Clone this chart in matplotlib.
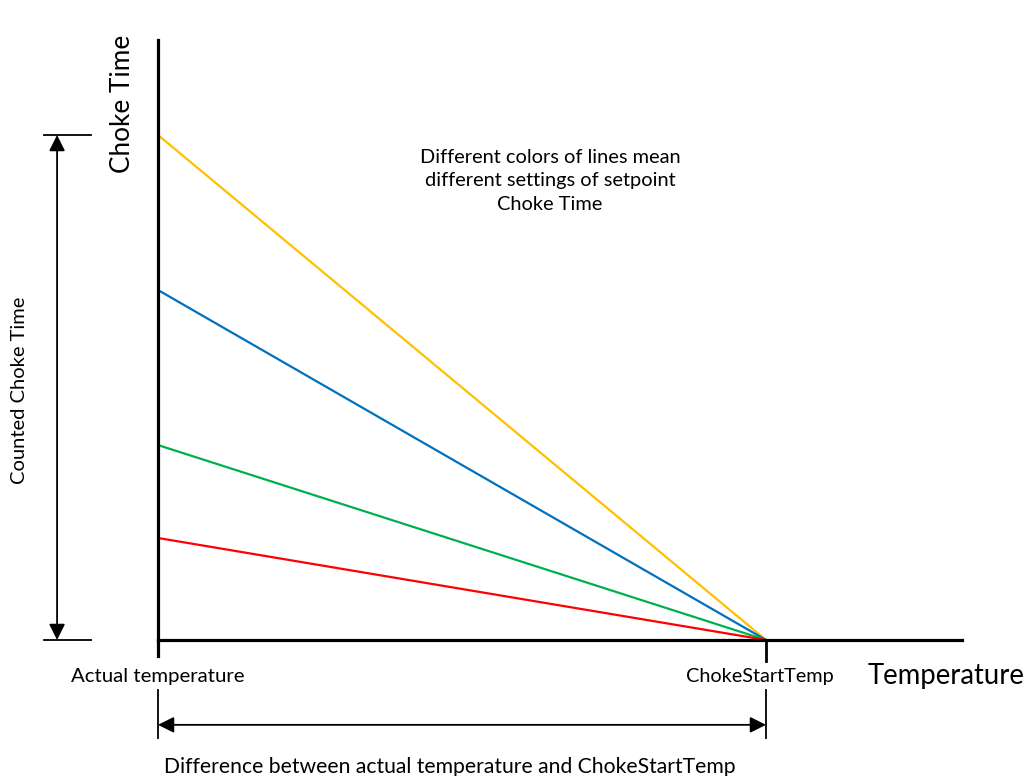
import matplotlib.pyplot as plt

# setpoint choke time per line (fraction of max counted choke time), at actual temperature
setpoint_names = ['yellow', 'blue', 'green', 'red']
setpoint_values = [1.0, 0.693, 0.386, 0.202]
line_colors = ['#FFC000', '#0070C0', '#00B050', '#FF0000']
temp_points = [0.0, 1.0]  # actual temperature -> ChokeStartTemp

plt.rcParams['font.family'] = ['Lato', 'DejaVu Sans']

fig = plt.figure(figsize=(10.3, 7.76), dpi=100)
ax = fig.add_axes([158 / 1030, 136 / 776, 804 / 1030, 600 / 776])

for v, c in zip(setpoint_values, line_colors):
    ax.plot(temp_points, [v, 0.0], color=c, lw=1.6, solid_capstyle='butt')

ax.set_xlim(0, 804 / 608)
ax.set_ylim(0, 600 / 505)
for s in ['top', 'right']:
    ax.spines[s].set_visible(False)
for s in ['left', 'bottom']:
    ax.spines[s].set_linewidth(2.3)
ax.set_xticks([])
ax.set_yticks([])

k = dict(color='black', clip_on=False)
# left spine extension and ChokeStartTemp tick
ax.plot([0, 0], [0, -0.032], lw=2.3, **k)
ax.plot([1, 1], [0, -0.042], lw=2.0, **k)

# vertical dimension
for y in [1.0, 0.0]:
    ax.plot([-0.1875, -0.1102], [y, y], lw=1.3, **k)
ax.annotate('', xy=(-0.166, 1.0), xytext=(-0.166, 0.0),
            arrowprops=dict(arrowstyle='<|-|>', mutation_scale=24, lw=1.3,
                            color='black', shrinkA=0, shrinkB=0),
            annotation_clip=False)
ax.text(-0.227, 0.495, 'Counted Choke Time', rotation=90, ha='center', va='center',
        fontsize=14.5, clip_on=False)

# horizontal dimension
for x in [0.0, 1.0]:
    ax.plot([x, x], [-0.099, -0.194], lw=1.3, **k)
ax.annotate('', xy=(0.0, -0.168), xytext=(1.0, -0.168),
            arrowprops=dict(arrowstyle='<|-|>', mutation_scale=24, lw=1.3,
                            color='black', shrinkA=0, shrinkB=0),
            annotation_clip=False)
ax.text(0.4794, -0.2515, 'Difference between actual temperature and ChokeStartTemp',
        ha='center', va='center', fontsize=15.2, clip_on=False)

ax.text(0.0, -0.0713, 'Actual temperature', ha='center', va='center', fontsize=14.7)
ax.text(0.99, -0.0713, 'ChokeStartTemp', ha='center', va='center', fontsize=14.3)
ax.text(1.296, -0.0713, 'Temperature', ha='center', va='center', fontsize=19.8)
ax.text(-0.0592, 1.061, 'Choke Time', rotation=90, ha='center', va='center', fontsize=18.8)

ax.text(0.645, 0.909, 'Different colors of lines mean\ndifferent settings of setpoint\nChoke Time',
        ha='center', va='center', fontsize=14.4, linespacing=1.45)

fig.savefig('out.png', dpi=100)
